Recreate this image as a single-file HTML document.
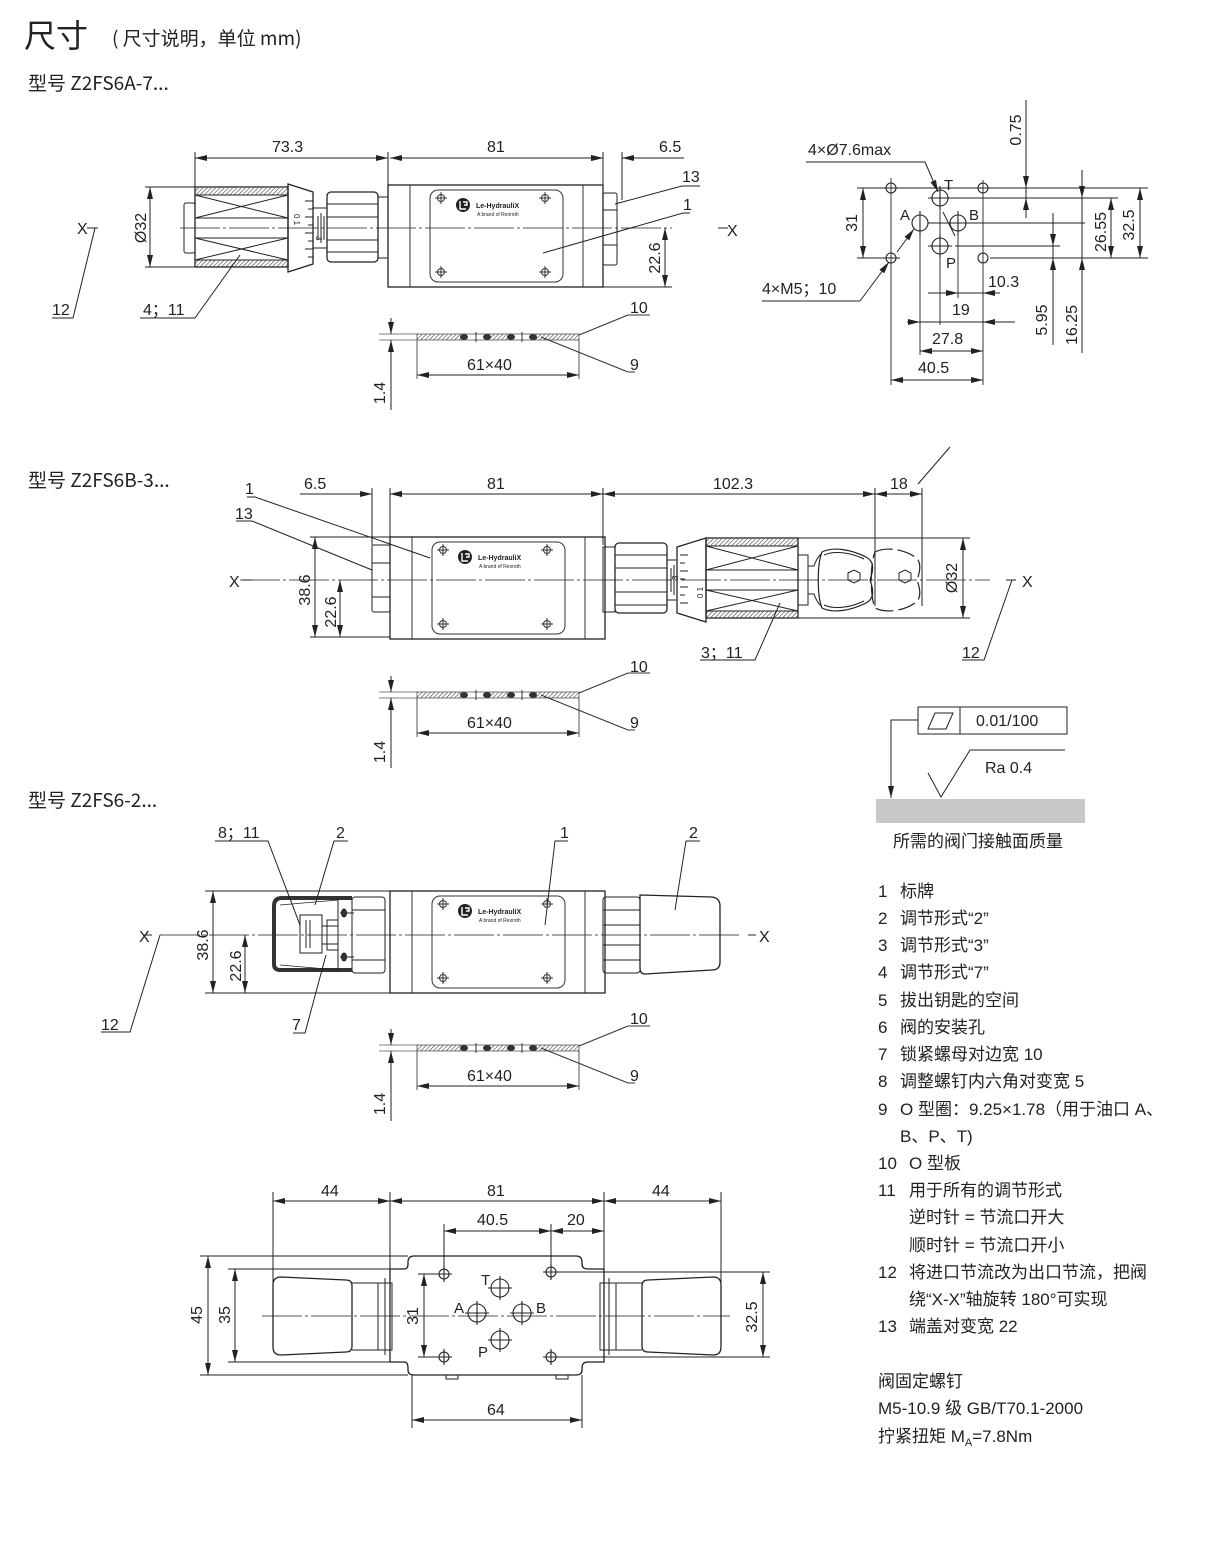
<!DOCTYPE html>
<html><head><meta charset="utf-8">
<style>
html,body{margin:0;padding:0;background:#fff;}
svg{display:block;}
text{font-family:"Liberation Sans","Noto Sans CJK SC",sans-serif;fill:#222;}
.cj{font-family:"Noto Sans CJK SC","Liberation Sans",sans-serif;}
</style></head><body>
<svg width="1224" height="1544" viewBox="0 0 1224 1544" xmlns="http://www.w3.org/2000/svg">
<defs>
<marker id="ar" viewBox="0 0 12 6" refX="12" refY="3" markerWidth="12" markerHeight="6" markerUnits="userSpaceOnUse" orient="auto-start-reverse"><path d="M0,0 L12,3 L0,6 z" fill="#222"/></marker>
<pattern id="hat" width="3" height="3" patternUnits="userSpaceOnUse" patternTransform="rotate(45)"><line x1="0" y1="0" x2="0" y2="3" stroke="#444" stroke-width="1.2"/></pattern>
<g id="body">
 <rect x="0" y="0" width="215" height="102" fill="none" stroke="#222" stroke-width="1.3"/>
 <line x1="22" y1="0" x2="22" y2="102" stroke="#333"/>
 <line x1="195" y1="0" x2="195" y2="102" stroke="#333"/>
 <rect x="42" y="5" width="133" height="92" rx="8" fill="none" stroke="#333"/>
 <g stroke="#333" fill="none">
  <circle cx="53" cy="13" r="3.5"/><circle cx="157" cy="13" r="3.5"/><circle cx="53" cy="87" r="3.5"/><circle cx="157" cy="87" r="3.5"/>
  <path d="M47,13h12M53,7v12M151,13h12M157,7v12M47,87h12M53,81v12M151,87h12M157,81v12"/>
 </g>
 <circle cx="75" cy="20" r="7" fill="#222"/>
 <path d="M72,16v8h6M75,17h4v3h-3" stroke="#fff" stroke-width="1.4" fill="none"/>
</g>
<g id="gasket">
 <line x1="-6" y1="-3" x2="32" y2="-3" stroke="#555" stroke-width="0.8"/>
 <line x1="-6" y1="3" x2="32" y2="3" stroke="#555" stroke-width="0.8"/>
 <rect x="32" y="-3" width="162" height="6" fill="none" stroke="#555" stroke-width="0.8"/>
 <rect x="32" y="-3" width="45" height="6" fill="url(#hat)"/>
 <rect x="104" y="-3" width="20" height="6" fill="url(#hat)"/>
 <rect x="150" y="-3" width="44" height="6" fill="url(#hat)"/>
 <g fill="#333"><ellipse cx="79" cy="0" rx="4" ry="3"/><ellipse cx="102" cy="0" rx="4" ry="3"/><ellipse cx="126" cy="0" rx="4" ry="3"/><ellipse cx="148" cy="0" rx="4" ry="3"/></g>
 <line x1="91" y1="-5" x2="91" y2="5" stroke="#333"/><line x1="137" y1="-5" x2="137" y2="5" stroke="#333"/>
 <line x1="32" y1="3" x2="32" y2="42" stroke="#555"/><line x1="194" y1="3" x2="194" y2="42" stroke="#555"/>
 <line x1="32" y1="38" x2="194" y2="38" stroke="#222" marker-start="url(#ar)" marker-end="url(#ar)"/>
 <line x1="6" y1="-19" x2="6" y2="-3" stroke="#222" marker-end="url(#ar)"/>
 <line x1="6" y1="73" x2="6" y2="3" stroke="#222" marker-end="url(#ar)"/>
 <line x1="194" y1="-2" x2="243" y2="-22" stroke="#333"/><line x1="243" y1="-22" x2="265" y2="-22" stroke="#333"/>
 <line x1="156" y1="0" x2="243" y2="35" stroke="#333"/><line x1="243" y1="35" x2="250" y2="35" stroke="#333"/>
</g>
</defs>

<!-- Header -->
<text x="24" y="47" font-size="32" class="cj">尺寸</text>
<text x="112" y="45" font-size="19" class="cj">( 尺寸说明，单位 mm)</text>
<text x="28" y="90" font-size="19" class="cj">型号 Z2FS6A-7...</text>
<text x="28" y="487" font-size="19" class="cj">型号 Z2FS6B-3...</text>
<text x="28" y="807" font-size="19" class="cj">型号 Z2FS6-2...</text>

<g stroke="#222" stroke-width="1" fill="none">
<!-- ===== Section 1 ===== -->
<line x1="180" y1="228" x2="672" y2="228" stroke="#555" stroke-dasharray="40,3,3,3"/>
<path d="M195,152V190M388,152V190M603,152V190M622,152V200"/>
<line x1="195" y1="158" x2="388" y2="158" marker-start="url(#ar)" marker-end="url(#ar)"/>
<line x1="390" y1="158" x2="603" y2="158" marker-start="url(#ar)" marker-end="url(#ar)"/>
<line x1="585" y1="158" x2="603" y2="158" marker-end="url(#ar)"/>
<line x1="640" y1="158" x2="622" y2="158" marker-end="url(#ar)"/>
<line x1="622" y1="158" x2="684" y2="158"/>
<rect x="184" y="203" width="11" height="50" rx="2"/>
<rect x="195" y="187" width="93" height="80" stroke-width="1.3"/>
<rect x="195" y="188" width="93" height="7" fill="url(#hat)" stroke="none"/>
<rect x="195" y="260" width="93" height="7" fill="url(#hat)" stroke="none"/>
<path d="M195,195H288M195,260H288M195,218H288M195,238H288M195,195L288,218M195,218L288,195M195,238L288,260M195,260L288,238"/>
<path d="M288,184L313,192V264L288,272Z" stroke-width="1.3"/>
<path d="M305,201h8M308,209h5M305,217h8M308,225h5M305,233h8M308,241h5M305,249h8M308,257h5"/>
<rect x="313" y="208" width="14" height="40"/>
<path d="M318,216v24M321,213v30M324,216v24"/>
<rect x="327" y="192" width="51" height="70" rx="4" stroke-width="1.3"/>
<path d="M327,204H378M327,217H378M327,240H378M327,252H378"/>
<rect x="378" y="197" width="10" height="61"/>
<rect x="603" y="193" width="14" height="72" rx="2"/>
<path d="M603,210H617M603,245H617"/>
<path d="M145,187H195M145,267H195"/>
<line x1="150" y1="187" x2="150" y2="267" marker-start="url(#ar)" marker-end="url(#ar)"/>
<path d="M603,287H672"/>
<line x1="665" y1="228" x2="665" y2="287" marker-start="url(#ar)" marker-end="url(#ar)"/>
<path d="M87,228H98M95,228L73,318H52"/>
<path d="M140,318H195L240,255"/>
<path d="M615,204L682,186H700"/>
<path d="M543,253L683,213H690"/>
<path d="M718,228H728"/>

<!-- ===== Port pattern ===== -->
<path d="M857,188H1033M983,188H1148M945,198H1118M965,223H1085M955,246H1060M990,258H1148M857,258H900" stroke-width="0.9"/>
<path d="M891,178V385M920,212V355M940,188V325M958,212V298M983,180V385" stroke-width="0.9"/>
<g stroke-width="1.1">
<circle cx="891" cy="188" r="5"/><circle cx="983" cy="188" r="5"/><circle cx="891" cy="258" r="5"/><circle cx="983" cy="258" r="5"/>
<circle cx="940" cy="198" r="8"/><circle cx="920" cy="223" r="8"/><circle cx="958" cy="223" r="8"/><circle cx="940" cy="246" r="8"/>
<path d="M928,223h24M946,223h24M928,198h24M928,246h24M940,186v24M920,211v24M958,211v24M940,234v24"/>
</g>
<line x1="863" y1="188" x2="863" y2="258" marker-start="url(#ar)" marker-end="url(#ar)"/>
<path d="M1026,100V218"/>
<line x1="1026" y1="160" x2="1026" y2="188" marker-end="url(#ar)"/>
<line x1="1026" y1="218" x2="1026" y2="198" marker-end="url(#ar)"/>
<line x1="1111" y1="198" x2="1111" y2="258" marker-start="url(#ar)" marker-end="url(#ar)"/>
<line x1="1140" y1="188" x2="1140" y2="258" marker-start="url(#ar)" marker-end="url(#ar)"/>
<path d="M1053,213V345M1082,170V353"/>
<line x1="1053" y1="220" x2="1053" y2="246" marker-end="url(#ar)"/>
<line x1="1053" y1="285" x2="1053" y2="258" marker-end="url(#ar)"/>
<line x1="1082" y1="175" x2="1082" y2="198" marker-end="url(#ar)"/>
<line x1="1082" y1="285" x2="1082" y2="258" marker-end="url(#ar)"/>
<path d="M928,293H1000M907,322H1015M920,351H983M891,380H983"/>
<line x1="930" y1="293" x2="958" y2="293" marker-end="url(#ar)"/>
<line x1="1000" y1="293" x2="983" y2="293" marker-end="url(#ar)"/>
<line x1="907" y1="322" x2="920" y2="322" marker-end="url(#ar)"/>
<line x1="1015" y1="322" x2="983" y2="322" marker-end="url(#ar)"/>
<line x1="920" y1="351" x2="983" y2="351" marker-start="url(#ar)" marker-end="url(#ar)"/>
<line x1="891" y1="380" x2="983" y2="380" marker-start="url(#ar)" marker-end="url(#ar)"/>
<path d="M806,162H925"/><line x1="925" y1="162" x2="938" y2="192" marker-end="url(#ar)"/>
<path d="M943,212L955,236"/>
<path d="M762,301H860"/><line x1="860" y1="301" x2="889" y2="262" marker-end="url(#ar)"/>
<line x1="897" y1="252" x2="914" y2="229" marker-end="url(#ar)"/>

<!-- ===== Section 2 ===== -->
<line x1="240" y1="580" x2="990" y2="580" stroke="#555" stroke-dasharray="40,3,3,3"/>
<path d="M372,488V545M390,488V537M603,488V545M875,488V606M922,488V606"/>
<line x1="372" y1="494" x2="354" y2="494" marker-start="url(#ar)"/>
<line x1="354" y1="494" x2="300" y2="494"/>
<line x1="390" y1="494" x2="408" y2="494" marker-start="url(#ar)"/>
<line x1="390" y1="494" x2="603" y2="494" marker-start="url(#ar)" marker-end="url(#ar)"/>
<line x1="603" y1="494" x2="875" y2="494" marker-start="url(#ar)" marker-end="url(#ar)"/>
<line x1="875" y1="494" x2="922" y2="494" marker-start="url(#ar)" marker-end="url(#ar)"/>
<path d="M918,484L950,447"/>
<rect x="372" y="545" width="18" height="67" rx="2"/>
<path d="M372,563H390M372,597H390"/>
<path d="M310,537H390M310,637H390"/>
<line x1="315" y1="537" x2="315" y2="637" marker-start="url(#ar)" marker-end="url(#ar)"/>
<line x1="340" y1="580" x2="340" y2="637" marker-start="url(#ar)" marker-end="url(#ar)"/>
<rect x="603" y="547" width="12" height="65"/>
<rect x="615" y="543" width="52" height="70" rx="4" stroke-width="1.3"/>
<path d="M615,555H667M615,568H667M615,592H667M615,605H667"/>
<rect x="667" y="560" width="10" height="40"/>
<path d="M671,568v24M674,565v30"/>
<path d="M677,547L706,538V622L677,613Z" stroke-width="1.3"/>
<path d="M680,555h8M680,563h5M680,571h8M680,579h5M680,587h8M680,595h5M680,603h8"/>
<rect x="706" y="538" width="92" height="80" stroke-width="1.3"/>
<rect x="706" y="539" width="92" height="7" fill="url(#hat)" stroke="none"/>
<rect x="706" y="611" width="92" height="7" fill="url(#hat)" stroke="none"/>
<path d="M706,546H798M706,611H798M706,570H798M706,590H798M706,546L798,570M706,570L798,546M706,590L798,611M706,611L798,590"/>
<rect x="798" y="555" width="10" height="50"/>
<path d="M808,566h6c3,-8 6,-12 8,-12M808,594h6c3,8 6,12 8,12"/>
<path d="M822,552c12,-6 30,-2 44,5c8,4 8,12 4,23c4,11 4,19 -4,23c-14,7 -32,11 -44,5c-5,-12 -5,-44 0,-56z" stroke-width="1.2"/>
<path d="M824,555c11,-5 28,-2 40,4M824,605c11,5 28,2 40,-4"/>
<path d="M875,552c12,-6 30,-2 40,5c6,4 6,12 2,23c4,11 4,19 -2,23c-10,7 -28,11 -40,5c-5,-12 -5,-44 0,-56z" stroke-width="1.2" stroke-dasharray="18,5"/>
<path d="M848,573l6,-3l6,3v7l-6,3l-6,-3z"/>
<path d="M899,573l6,-3l6,3v7l-6,3l-6,-3z"/>
<path d="M798,538H970M798,618H970"/>
<line x1="963" y1="538" x2="963" y2="618" marker-start="url(#ar)" marker-end="url(#ar)"/>
<path d="M242,580H252M1006,580H1016M1012,580L984,660H962"/>
<path d="M700,660H755L780,603"/>
<path d="M247,497H255L430,558"/>
<path d="M236,521H252L372,570"/>

<!-- ===== Section 3 ===== -->
<line x1="160" y1="935" x2="742" y2="935" stroke="#555" stroke-dasharray="40,3,3,3"/>
<path d="M205,891H390M205,993H390"/>
<line x1="213" y1="891" x2="213" y2="993" marker-start="url(#ar)" marker-end="url(#ar)"/>
<line x1="245" y1="935" x2="245" y2="993" marker-start="url(#ar)" marker-end="url(#ar)"/>
<path d="M352,898H282Q274,898 274,906V964Q274,970 280,970H352" stroke-width="4" stroke="#333"/>
<path d="M280,905L338,900M280,965L338,970" stroke-width="0.8"/>
<path d="M338,898V971M352,898V971"/>
<rect x="300" y="915" width="22" height="38"/>
<path d="M306,920v28M310,920v28M322,926h16v18h-16"/>
<rect x="327" y="920" width="11" height="30"/>
<rect x="352" y="897" width="33" height="76" rx="3"/>
<path d="M352,910H385M352,960H385M340,913h14M340,957h14"/>
<ellipse cx="344" cy="913" rx="2.5" ry="4" fill="#333"/><ellipse cx="344" cy="957" rx="2.5" ry="4" fill="#333"/>
<rect x="603" y="897" width="37" height="76" rx="3"/>
<path d="M603,910H640M603,960H640M603,925h37M603,945h37"/>
<path d="M640,895L712,897Q720,898 720,906V962Q720,970 712,970L645,974Q640,974 640,968Z" stroke-width="1.3"/>
<path d="M143,935H152M160,935L130,1032H101M748,935H756"/>
<path d="M215,841H268L300,925"/>
<path d="M348,841H334L315,905"/>
<path d="M568,841H555L545,925"/>
<path d="M700,841H686L675,910"/>
<path d="M293,1033H305L326,955"/>

<!-- ===== Section 4 ===== -->
<line x1="262" y1="1316" x2="730" y2="1316" stroke="#555" stroke-dasharray="40,3,3,3"/>
<path d="M273,1192V1290M390,1192V1269M604,1192V1269M721,1192V1290M444,1224V1274M551,1224V1265"/>
<line x1="273" y1="1201" x2="390" y2="1201" marker-start="url(#ar)" marker-end="url(#ar)"/>
<line x1="390" y1="1201" x2="604" y2="1201" marker-start="url(#ar)" marker-end="url(#ar)"/>
<line x1="604" y1="1201" x2="721" y2="1201" marker-start="url(#ar)" marker-end="url(#ar)"/>
<line x1="444" y1="1231" x2="551" y2="1231" marker-start="url(#ar)" marker-end="url(#ar)"/>
<line x1="551" y1="1231" x2="604" y2="1231" marker-start="url(#ar)" marker-end="url(#ar)"/>
<path d="M390,1269H404Q408,1269 408,1264V1262Q408,1256 414,1256H576Q582,1256 582,1262V1264Q582,1269 588,1269H604V1362H588Q582,1362 582,1368V1370Q582,1375 576,1375H414Q408,1375 408,1370V1368Q408,1362 404,1362H390Z" stroke-width="1.3"/>
<path d="M446,1375v4h12v-4M556,1375v4h12v-4"/>
<g stroke-width="1.1">
<circle cx="444" cy="1274" r="5"/><circle cx="551" cy="1272" r="5"/><circle cx="444" cy="1357" r="5"/><circle cx="551" cy="1357" r="5"/>
<circle cx="500" cy="1288" r="9"/><circle cx="477" cy="1313" r="9"/><circle cx="522" cy="1313" r="9"/><circle cx="500" cy="1340" r="9"/>
<path d="M436,1274h16M444,1266v16M543,1272h16M551,1264v16M436,1357h16M444,1349v16M543,1357h16M551,1349v16"/>
<path d="M488,1288h24M500,1276v24M465,1313h24M477,1301v24M510,1313h24M522,1301v24M488,1340h24M500,1328v24"/>
</g>
<path d="M200,1256H408M228,1269H390M228,1362H390M200,1375H408M418,1274H440M418,1357H440M556,1272H770M556,1357H770"/>
<line x1="208" y1="1256" x2="208" y2="1375" marker-start="url(#ar)" marker-end="url(#ar)"/>
<line x1="235" y1="1269" x2="235" y2="1362" marker-start="url(#ar)" marker-end="url(#ar)"/>
<line x1="424" y1="1274" x2="424" y2="1357" marker-start="url(#ar)" marker-end="url(#ar)"/>
<line x1="763" y1="1272" x2="763" y2="1357" marker-start="url(#ar)" marker-end="url(#ar)"/>
<path d="M412,1375V1428M582,1375V1428"/>
<line x1="412" y1="1420" x2="582" y2="1420" marker-start="url(#ar)" marker-end="url(#ar)"/>
<path d="M281,1277L346,1280Q352,1280 352,1286V1346Q352,1352 346,1352L281,1355Q273,1355 273,1347V1285Q273,1277 281,1277Z" stroke-width="1.3"/>
<path d="M352,1283H378V1350H352M378,1283H392V1350H378M385,1278v77"/>
<path d="M713,1277L648,1280Q642,1280 642,1286V1346Q642,1352 648,1352L713,1355Q721,1355 721,1347V1285Q721,1277 713,1277Z" stroke-width="1.3"/>
<path d="M642,1283H616V1350H642M616,1283H600V1350H616M609,1278v77"/>

<!-- ===== Tolerance ===== -->
<rect x="918" y="707" width="149" height="27"/>
<path d="M960,707V734"/>
<path d="M928,729L935,713H953L946,729Z"/>
<path d="M918,720H891V785"/>
<line x1="891" y1="770" x2="891" y2="798" marker-end="url(#ar)"/>
<path d="M928,773L941,797L970,750H1065"/>
</g>
<rect x="876" y="799" width="209" height="24" fill="#c8c8c8"/>

<use href="#gasket" x="385" y="337"/>
<use href="#gasket" x="385" y="695"/>
<use href="#gasket" x="385" y="1048"/>
<use href="#body" x="388" y="185"/>
<use href="#body" x="390" y="537"/>
<use href="#body" x="390" y="891"/>

<!-- ===== Texts ===== -->
<g font-size="16">
<text x="272" y="152">73.3</text><text x="487" y="152">81</text><text x="659" y="152">6.5</text>
<text x="682" y="182">13</text><text x="683" y="210">1</text>
<text x="77" y="234">X</text><text x="727" y="236">X</text>
<text x="52" y="315">12</text><text x="143" y="315">4；11</text>
<text x="630" y="313">10</text><text x="630" y="370">9</text>
<text x="467" y="370">61×40</text>

<text x="808" y="155">4×Ø7.6max</text>
<text x="762" y="294">4×M5；10</text>
<text x="944" y="190" font-size="15">T</text><text x="900" y="220" font-size="15">A</text><text x="969" y="220" font-size="15">B</text><text x="946" y="268" font-size="15">P</text>
<text x="988" y="287">10.3</text><text x="952" y="315">19</text><text x="932" y="344">27.8</text><text x="918" y="373">40.5</text>

<text x="304" y="489">6.5</text><text x="487" y="489">81</text><text x="713" y="489">102.3</text><text x="890" y="489">18</text>
<text x="245" y="494">1</text><text x="235" y="519">13</text>
<text x="229" y="587">X</text><text x="1022" y="587">X</text>
<text x="701" y="658">3；11</text><text x="962" y="658">12</text>
<text x="630" y="672">10</text><text x="630" y="728">9</text>
<text x="467" y="728">61×40</text>

<text x="218" y="838">8；11</text><text x="336" y="838">2</text><text x="560" y="838">1</text><text x="689" y="838">2</text>
<text x="139" y="942">X</text><text x="759" y="942">X</text>
<text x="292" y="1030">7</text><text x="101" y="1030">12</text>
<text x="630" y="1024">10</text><text x="630" y="1081">9</text>
<text x="467" y="1081">61×40</text>

<text x="321" y="1196">44</text><text x="487" y="1196">81</text><text x="652" y="1196">44</text>
<text x="477" y="1225">40.5</text><text x="567" y="1225">20</text>
<text x="481" y="1285" font-size="15">T</text><text x="454" y="1313" font-size="15">A</text><text x="536" y="1313" font-size="15">B</text><text x="478" y="1357" font-size="15">P</text>
<text x="487" y="1415">64</text>

<text x="976" y="726">0.01/100</text>
<text x="985" y="773">Ra 0.4</text>
</g>
<!-- rotated labels: baseline x, centered y -->
<g font-size="16" text-anchor="middle">
<text x="146" y="228" transform="rotate(-90 146 228)">Ø32</text>
<text x="660" y="258" transform="rotate(-90 660 258)">22.6</text>
<text x="385" y="393" transform="rotate(-90 385 393)">1.4</text>
<text x="857" y="223" transform="rotate(-90 857 223)">31</text>
<text x="1021" y="130" transform="rotate(-90 1021 130)">0.75</text>
<text x="1106" y="232" transform="rotate(-90 1106 232)">26.55</text>
<text x="1134" y="225" transform="rotate(-90 1134 225)">32.5</text>
<text x="1047" y="320" transform="rotate(-90 1047 320)">5.95</text>
<text x="1077" y="325" transform="rotate(-90 1077 325)">16.25</text>
<text x="310" y="590" transform="rotate(-90 310 590)">38.6</text>
<text x="336" y="612" transform="rotate(-90 336 612)">22.6</text>
<text x="957" y="578" transform="rotate(-90 957 578)">Ø32</text>
<text x="385" y="752" transform="rotate(-90 385 752)">1.4</text>
<text x="208" y="945" transform="rotate(-90 208 945)">38.6</text>
<text x="241" y="966" transform="rotate(-90 241 966)">22.6</text>
<text x="385" y="1104" transform="rotate(-90 385 1104)">1.4</text>
<text x="202" y="1315" transform="rotate(-90 202 1315)">45</text>
<text x="230" y="1315" transform="rotate(-90 230 1315)">35</text>
<text x="418" y="1316" transform="rotate(-90 418 1316)">31</text>
<text x="757" y="1317" transform="rotate(-90 757 1317)">32.5</text>
</g>
<g font-size="7" font-weight="bold">
<text x="476" y="208">Le-HydrauliX</text><text x="478" y="560">Le-HydrauliX</text><text x="478" y="914">Le-HydrauliX</text>
</g>
<g font-size="5">
<text x="477" y="216">A brand of Rexroth</text><text x="479" y="568">A brand of Rexroth</text><text x="479" y="922">A brand of Rexroth</text>
</g>
<g font-size="8">
<text transform="rotate(90 294 214)" x="294" y="214">0 1</text>
<text transform="rotate(90 316 236)" x="316" y="236">3</text>
<text transform="rotate(-90 703 585)" x="690" y="585">0 1</text>
<text transform="rotate(-90 678 574)" x="672" y="574">3</text>
</g>

<g font-size="17" class="cj">
<text x="893" y="847">所需的阀门接触面质量</text>
<text x="878" y="897">1</text><text x="900" y="897">标牌</text>
<text x="878" y="924">2</text><text x="900" y="924">调节形式“2”</text>
<text x="878" y="951">3</text><text x="900" y="951">调节形式“3”</text>
<text x="878" y="978">4</text><text x="900" y="978">调节形式“7”</text>
<text x="878" y="1006">5</text><text x="900" y="1006">拔出钥匙的空间</text>
<text x="878" y="1033">6</text><text x="900" y="1033">阀的安装孔</text>
<text x="878" y="1060">7</text><text x="900" y="1060">锁紧螺母对边宽 10</text>
<text x="878" y="1087">8</text><text x="900" y="1087">调整螺钉内六角对变宽 5</text>
<text x="878" y="1115">9</text><text x="900" y="1115">O 型圈：9.25×1.78（用于油口 A、</text>
<text x="900" y="1142">B、P、T)</text>
<text x="878" y="1169">10</text><text x="909" y="1169">O 型板</text>
<text x="878" y="1196">11</text><text x="909" y="1196">用于所有的调节形式</text>
<text x="909" y="1223">逆时针 = 节流口开大</text>
<text x="909" y="1251">顺时针 = 节流口开小</text>
<text x="878" y="1278">12</text><text x="909" y="1278">将进口节流改为出口节流，把阀</text>
<text x="909" y="1305">绕“X-X”轴旋转 180°可实现</text>
<text x="878" y="1332">13</text><text x="909" y="1332">端盖对变宽 22</text>
<text x="878" y="1387">阀固定螺钉</text>
<text x="878" y="1414">M5-10.9 级 GB/T70.1-2000</text>
<text x="878" y="1442">拧紧扭矩 M<tspan font-size="11" dy="4">A</tspan><tspan dy="-4">=7.8Nm</tspan></text>
</g>
</svg>
</body></html>
